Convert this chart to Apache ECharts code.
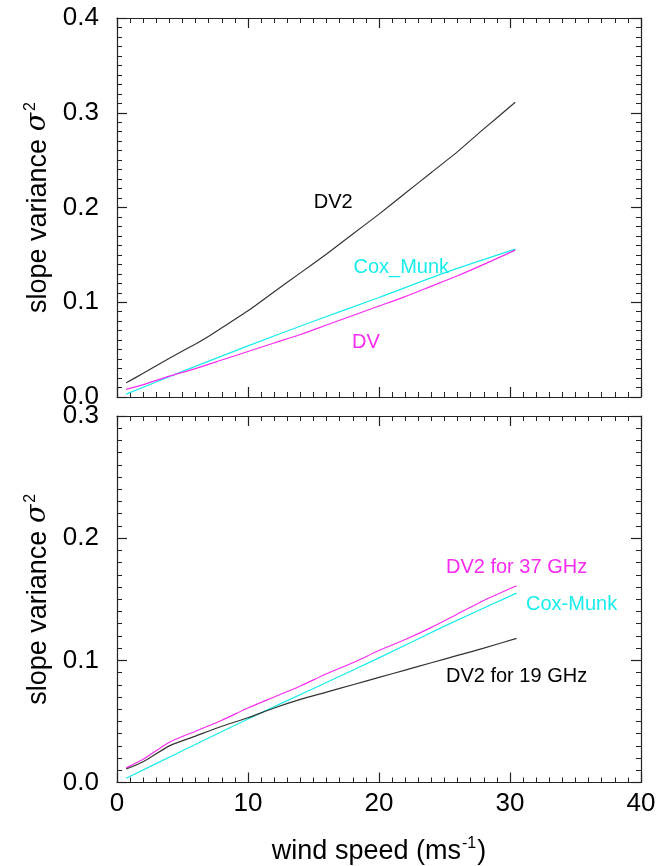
<!DOCTYPE html>
<html>
<head>
<meta charset="utf-8">
<script src="https://cdn.jsdelivr.net/npm/echarts@6/dist/echarts.min.js"></script>
<style>html,body{margin:0;padding:0;background:#fff}#c{width:666px;height:866px}</style>
</head>
<body>
<div id="c"></div>
<script>
// ---- Data ----
// Top panel
var topDV2X = [0.7, 2, 4, 6, 7.1, 8, 10, 12, 14, 16, 18, 20, 22, 24, 26, 28, 30.4];
var topDV2Y = [0.015, 0.025, 0.041, 0.056, 0.065, 0.073, 0.091, 0.111, 0.131, 0.151, 0.172, 0.193, 0.215, 0.237, 0.259, 0.283, 0.311];
var topCoxX = [0.7, 5, 10, 15, 20, 25, 30.4];
var topCoxY = [0.003, 0.027, 0.054, 0.080, 0.105, 0.131, 0.156];
var topDVX = [0.7, 2, 4, 6, 8, 10, 12, 14, 16, 18, 20, 22, 24, 26, 28, 30.4];
var topDVY = [0.008, 0.013, 0.022, 0.030, 0.039, 0.048, 0.057, 0.066, 0.076, 0.086, 0.096, 0.106, 0.117, 0.128, 0.140, 0.155];
// Bottom panel
var bot37X = [0.7, 2, 4, 6, 8, 10, 12, 14, 16, 18, 20, 22, 24, 26, 28, 30.5];
var bot37Y = [0.012, 0.019, 0.033, 0.042, 0.051, 0.061, 0.070, 0.079, 0.089, 0.098, 0.108, 0.117, 0.127, 0.138, 0.149, 0.161];
var botCoxX = [0.7, 5, 10, 15, 20, 25, 30.5];
var botCoxY = [0.0035, 0.026, 0.052, 0.077, 0.102, 0.128, 0.155];
var bot19X = [0.7, 2, 4, 6, 8, 10, 12, 14, 16, 18, 20, 22, 24, 26, 28, 30.5];
var bot19Y = [0.011, 0.017, 0.030, 0.038, 0.046, 0.053, 0.061, 0.068, 0.074, 0.080, 0.086, 0.092, 0.098, 0.104, 0.110, 0.118];

var xTicks = [0, 10, 20, 30, 40];
var yTicksTop = ['0.0', '0.1', '0.2', '0.3', '0.4'];
var yTicksBot = ['0.0', '0.1', '0.2', '0.3'];

var labelsTop = ['DV2', 'Cox_Munk', 'DV'];
var labelsBot = ['DV2 for 37 GHz', 'Cox-Munk', 'DV2 for 19 GHz'];

// ---- Styling / layout ----
var FONT = 'Liberation Sans, Arial, Helvetica, sans-serif';
var INK = '#222';
var BLACK = '#333';
var CYAN = '#18ecec';
var MAGENTA = '#f82cf0';
// label anchor points in data space
var anchorsTop = [[16.5, 0.2055], [21.7, 0.137], [19.0, 0.058]];
var anchorsBot = [[30.5, 0.1763], [34.7, 0.1455], [30.5, 0.0865]];

function zip(a, b) { return a.map(function (v, i) { return [v, b[i]]; }); }

function xAxis(gridIndex, pos, withLabels) {
  var ax = {
    type: 'value', gridIndex: gridIndex, position: pos, min: 0, max: 40, interval: 10,
    axisLine: { show: true, onZero: false, lineStyle: { color: INK, width: 1.2 } },
    axisTick: { show: true, inside: true, length: 10, lineStyle: { color: INK, width: 1.2 } },
    minorTick: { show: true, splitNumber: 10, length: 5, lineStyle: { color: INK, width: 1 } },
    splitLine: { show: false },
    axisLabel: { show: withLabels, margin: 8, fontSize: 26, color: '#000', fontFamily: FONT,
      formatter: function (v) { return xTicks.indexOf(v) >= 0 ? String(v) : ''; } }
  };
  if (withLabels) {
    ax.name = '{t|wind speed (ms}{s|-1}{t|)}';
    ax.nameLocation = 'middle';
    ax.nameGap = 53;
    ax.nameTextStyle = { rich: {
      t: { fontSize: 27, fontFamily: FONT, color: '#000', lineHeight: 32 },
      s: { fontSize: 16, fontFamily: FONT, color: '#000', verticalAlign: 'top', lineHeight: 32, padding: [0, 1, 0, 1] }
    } };
  }
  return ax;
}
function yAxis(gridIndex, pos, max, ticks, withLabels) {
  var ax = {
    type: 'value', gridIndex: gridIndex, position: pos, min: 0, max: max, interval: 0.1,
    axisLine: { show: true, onZero: false, lineStyle: { color: INK, width: 1.2 } },
    axisTick: { show: true, inside: true, length: 10, lineStyle: { color: INK, width: 1.2 } },
    minorTick: { show: true, splitNumber: 10, length: 5, lineStyle: { color: INK, width: 1 } },
    splitLine: { show: false },
    axisLabel: { show: withLabels, margin: 18, fontSize: 26, color: '#000', fontFamily: FONT,
      formatter: function (v) { var i = Math.round(v * 10); return ticks[i] || ''; } }
  };
  if (withLabels) {
    ax.name = '{t|slope variance }{g|σ}{s|2}';
    ax.nameLocation = 'middle';
    ax.nameGap = 52;
    ax.nameRotate = 90;
    ax.nameTextStyle = { rich: {
      t: { fontSize: 27, fontFamily: FONT, color: '#000', lineHeight: 32 },
      g: { fontSize: 27, fontFamily: 'DejaVu Serif, serif', fontStyle: 'italic', color: '#000', lineHeight: 32 },
      s: { fontSize: 16, fontFamily: FONT, color: '#000', verticalAlign: 'top', lineHeight: 32, padding: [0, 0, 0, 2] }
    } };
  }
  return ax;
}
function line(data, color, xi, yi) {
  return { type: 'line', data: data, xAxisIndex: xi, yAxisIndex: yi, smooth: 0.2, showSymbol: false, silent: true,
    lineStyle: { color: color, width: 1.2 }, z: 3 };
}
function labelSeries(names, anchors, colors, xi, yi) {
  return { type: 'scatter', xAxisIndex: xi, yAxisIndex: yi, symbolSize: 1, silent: true,
    itemStyle: { color: 'rgba(0,0,0,0)' },
    data: names.map(function (n, i) {
      return { value: anchors[i], name: n,
        label: { show: true, position: 'inside', formatter: n, color: colors[i], opacity: 1,
          textBorderWidth: 0, fontSize: 20, fontFamily: FONT } };
    }), z: 5 };
}

var chart = echarts.init(document.getElementById('c'), null, { renderer: 'canvas' });
chart.setOption({
  backgroundColor: '#fff',
  animation: false,
  grid: [
    { left: 117, top: 18, width: 524, height: 379 },
    { left: 117, top: 416, width: 524, height: 371 }
  ],
  xAxis: [
    xAxis(0, 'bottom', false), xAxis(0, 'top', false),
    xAxis(1, 'bottom', true), xAxis(1, 'top', false)
  ],
  yAxis: [
    yAxis(0, 'left', 0.4, yTicksTop, true), yAxis(0, 'right', 0.4, yTicksTop, false),
    yAxis(1, 'left', 0.3, yTicksBot, true), yAxis(1, 'right', 0.3, yTicksBot, false)
  ],
  series: [
    line(zip(topDV2X, topDV2Y), BLACK, 0, 0),
    line(zip(topCoxX, topCoxY), CYAN, 0, 0),
    line(zip(topDVX, topDVY), MAGENTA, 0, 0),
    line(zip(bot37X, bot37Y), MAGENTA, 2, 2),
    line(zip(botCoxX, botCoxY), CYAN, 2, 2),
    line(zip(bot19X, bot19Y), BLACK, 2, 2),
    labelSeries(labelsTop, anchorsTop, ['#000', CYAN, MAGENTA], 0, 0),
    labelSeries(labelsBot, anchorsBot, [MAGENTA, CYAN, '#000'], 2, 2)
  ]
});
</script>
</body>
</html>
